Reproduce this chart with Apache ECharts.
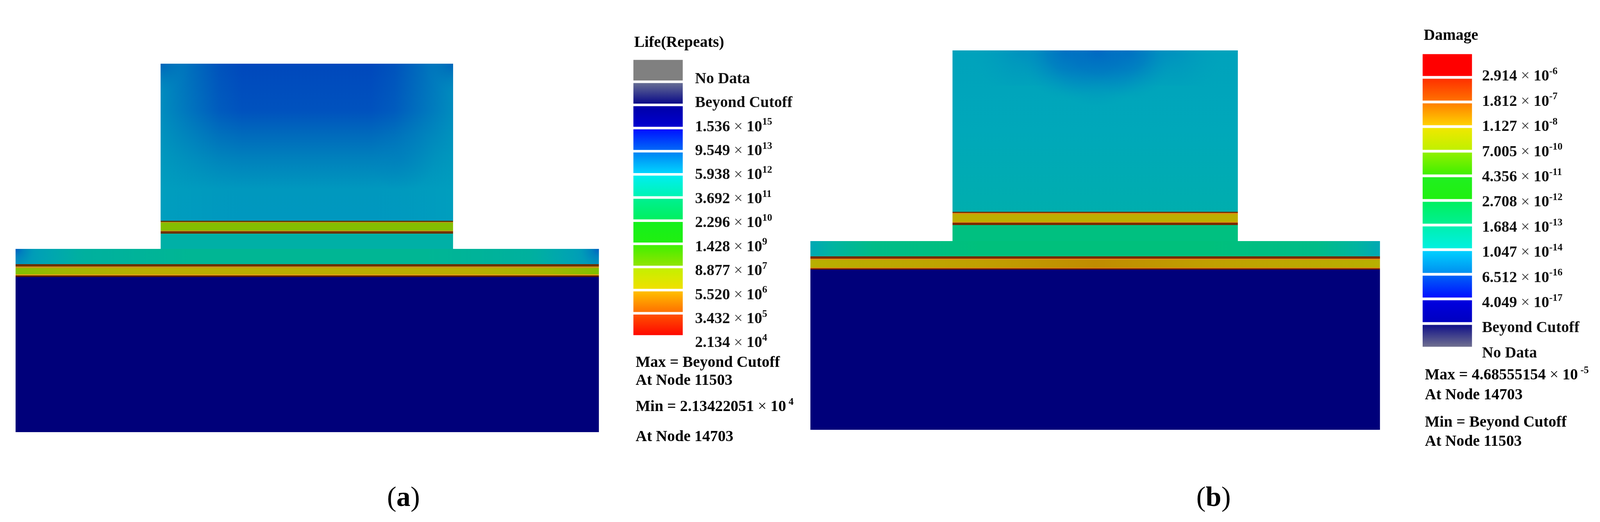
<!DOCTYPE html>
<html>
<head>
<meta charset="utf-8">
<title>Life and damage contours</title>
<script src="https://cdn.jsdelivr.net/npm/echarts@6/dist/echarts.min.js"></script>
<style>
  html, body { margin: 0; padding: 0; background: #fff; overflow: hidden; }
  #chart { width: 100vw; height: 100vh; }
</style>
</head>
<body>
<div id="chart"></div>
<script>
const towerSpanA = [391, 1179]
const baseSpanA = [0, 1572]
const towerEdgesA = [0, 402, 405, 407, 427, 429, 435, 474]
const baseEdgesA = [474, 513, 519, 523, 539, 542, 546, 943]

const towerSpanB = [383, 1152]
const baseSpanB = [0, 1535]
const towerEdgesB = [0, 413, 416, 419, 439, 441, 447, 488]
const baseEdgesB = [488, 527, 533, 536, 556, 558, 561, 971]

// legend entries
const lifeLevels = ['No Data', 'Beyond Cutoff', '1.536^15', '9.549^13', '5.938^12', '3.692^11', '2.296^10', '1.428^9', '8.877^7', '5.520^6', '3.432^5', '2.134^4']
const damageLevels = ['2.914^-6', '1.812^-7', '1.127^-8', '7.005^-10', '4.356^-11', '2.708^-12', '1.684^-13', '1.047^-14', '6.512^-16', '4.049^-17', 'Beyond Cutoff', 'No Data']
const lifeStats = ['Max = Beyond Cutoff', 'At Node 11503', 'Min = 2.13422051^ 4', 'At Node 14703']
const damageStats = ['Max = 4.68555154^ -5', 'At Node 14703', 'Min = Beyond Cutoff', 'At Node 11503']

const lifeBarColors = [
  ['#808080', '#808080'], ['#666d94', '#0a0a88'], ['#0000a8', '#0000d0'], ['#0010ff', '#0068f8'],
  ['#0084f4', '#00d4ff'], ['#00eef0', '#00f4b4'], ['#00f090', '#00f060'], ['#14f01c', '#20f010'],
  ['#40f000', '#90e400'], ['#c4f000', '#f0e000'], ['#ffc000', '#ff7000'], ['#ff5000', '#ff0800']
]
const damageBarColors = [
  ['#ff0000', '#ff0000'], ['#ff3000', '#ff7000'], ['#ff8000', '#ffd000'], ['#f0e800', '#c0f000'],
  ['#90f000', '#40f000'], ['#20f020', '#20f010'], ['#00f060', '#00f090'], ['#00f0b0', '#00f0e0'],
  ['#00d0ff', '#0090f0'], ['#0060f8', '#0010ff'], ['#0000e0', '#0000c0'], ['#101088', '#707090']
]

// the window can come out narrower than the reference, so the layout follows it
const sx = window.innerWidth / 4312
const sy = window.innerHeight / 1336

const vgrad = (stops) => ({ type: 'linear', x: 0, y: 0, x2: 0, y2: 1, colorStops: stops.map(s => ({ offset: s[0], color: s[1] })) })
const hgrad = (stops) => ({ type: 'linear', x: 0, y: 0, x2: 1, y2: 0, colorStops: stops.map(s => ({ offset: s[0], color: s[1] })) })
const spot = (x, y, r, stops) => ({ type: 'radial', x, y, r, colorStops: stops.map(s => ({ offset: s[0], color: s[1] })) })

const BROWN = '#6e3200'
const ORANGE_A = '#c89418'
const ORANGE_B = '#e08a14'
const NAVY = '#00007a'

const towerFillsA = [
  vgrad([[0, '#0048bc'], [0.3, '#0052be'], [0.45, '#006abc'], [0.6, '#0080bc'], [0.8, '#0098be'], [1, '#0098bf']]),
  '#5a3a00', ORANGE_A, '#84be00', ORANGE_A, BROWN, '#00b0a6'
]
const baseFillsA = [
  hgrad([[0, '#009cc0'], [0.04, '#00a8b4'], [0.12, '#00b09e'], [0.3, '#00b694'], [0.7, '#00b694'], [0.88, '#00b09e'], [0.96, '#00a8b4'], [1, '#009cc0']]),
  BROWN, ORANGE_A,
  hgrad([[0, '#80c000'], [0.08, '#a0b600'], [0.22, '#b8ae00'], [0.78, '#b8ae00'], [0.92, '#a0b600'], [1, '#80c000']]),
  '#e0a010', '#5a1a00', NAVY
]
const towerFillsB = [
  vgrad([[0, '#00a2bc'], [0.5, '#00a8ba'], [1, '#00aeae']]),
  BROWN, ORANGE_B, '#bcae00', ORANGE_B, '#7a2a00', '#00c080'
]
const baseFillsB = [
  hgrad([[0, '#00a8b4'], [0.04, '#00b4a0'], [0.11, '#00bc88'], [0.3, '#00c07c'], [0.7, '#00c07c'], [0.89, '#00bc88'], [0.96, '#00b4a0'], [1, '#00a8b4']]),
  '#7a2a00', ORANGE_B,
  hgrad([[0, '#b8b000'], [0.3, '#c0a000'], [0.5, '#c08c00'], [0.7, '#c0a000'], [1, '#b8b000']]),
  '#e07c14', '#6a1a00', NAVY
]

const edgeGlowA = (c) => [[0, c + '0.75)'], [0.08, c + '0.5)'], [0.2, c + '0.12)'], [0.28, c + '0)'], [0.72, c + '0)'], [0.8, c + '0.12)'], [0.92, c + '0.5)'], [1, c + '0.75)']]
const cornerA = [[0, 'rgba(0,90,195,0.95)'], [0.12, 'rgba(0,110,190,0.6)'], [0.3, 'rgba(0,130,185,0.25)'], [1, 'rgba(0,150,180,0)']]
const towerCornerA = [[0, 'rgba(0,85,185,0.7)'], [0.5, 'rgba(0,100,185,0.3)'], [1, 'rgba(0,130,190,0)']]
const shadeA = [[0, 'rgba(0,118,190,0.3)'], [1, 'rgba(0,118,190,0)']]
const lobeB = [[0, 'rgba(0,100,195,0.9)'], [0.4, 'rgba(0,112,195,0.65)'], [0.75, 'rgba(0,130,195,0.25)'], [1, 'rgba(0,150,190,0)']]
const shoulderB = [[0, 'rgba(0,120,195,0.4)'], [1, 'rgba(0,150,190,0)']]

const overlaysA = [
  [391, 1179, 0, 402, hgrad(edgeGlowA('rgba(0,160,190,'))],
  [391, 491, 0, 100, spot(0, 0, 0.8, towerCornerA)],
  [1079, 1179, 0, 100, spot(1, 0, 0.8, towerCornerA)],
  [950, 1130, 150, 330, spot(0.5, 0.5, 0.5, shadeA)],
  [0, 170, 474, 513, spot(0, 0, 4, cornerA)],
  [1402, 1572, 474, 513, spot(1, 0, 4, cornerA)]
]
const overlaysB = [
  [440, 700, 0, 90, spot(0.5, 0, 1.4, shoulderB)],
  [846, 1106, 0, 90, spot(0.5, 0, 1.4, shoulderB)],
  [560, 820, 0, 125, spot(0.5, 0, 1, lobeB)],
  [726, 986, 0, 125, spot(0.5, 0, 1, lobeB)],
  [613, 933, 0, 145, spot(0.5, 0, 1, lobeB)]
]

// one row per rectangle: x0, x1, depth0, depth1, fill index
function buildPanel (span1, edges1, fills1, span2, edges2, fills2, overlays) {
  const fills = []
  const rows = []
  const stack = (span, edges, list) => {
    list.forEach((fill, i) => {
      rows.push([span[0], span[1], edges[i], edges[i + 1], fills.length])
      fills.push(fill)
    })
  }
  stack(span1, edges1, fills1)
  stack(span2, edges2, fills2)
  overlays.forEach(o => {
    rows.push([o[0], o[1], o[2], o[3], fills.length])
    fills.push(o[4])
  })
  return { rows, fills }
}

const panelA = buildPanel(towerSpanA, towerEdgesA, towerFillsA, baseSpanA, baseEdgesA, baseFillsA, overlaysA)
const panelB = buildPanel(towerSpanB, towerEdgesB, towerFillsB, baseSpanB, baseEdgesB, baseFillsB, overlaysB)

function rectSeries (panel, gridIndex) {
  return {
    type: 'custom',
    xAxisIndex: gridIndex,
    yAxisIndex: gridIndex,
    silent: true,
    clip: false,
    data: panel.rows,
    encode: { x: [0, 1], y: [2, 3] },
    renderItem (params, api) {
      const p0 = api.coord([api.value(0), api.value(2)])
      const p1 = api.coord([api.value(1), api.value(3)])
      return {
        type: 'rect',
        shape: { x: p0[0], y: p0[1], width: p1[0] - p0[0], height: p1[1] - p0[1] },
        style: { fill: panel.fills[api.value(4)] }
      }
    }
  }
}

function barSeries (colors, gridIndex) {
  return {
    type: 'bar',
    xAxisIndex: gridIndex,
    yAxisIndex: gridIndex,
    silent: true,
    barCategoryGap: '11%',
    data: colors.map(c => ({ value: 1, itemStyle: { color: vgrad([[0, c[0]], [1, c[1]]]) } }))
  }
}

const SERIF = '"Liberation Serif", "Times New Roman", serif'
const richStyles = {
  n: { fontFamily: SERIF, fontWeight: 'bold', fontSize: 42 * sx, color: '#111', lineHeight: 48 * sx, verticalAlign: 'bottom' },
  x: { fontFamily: SERIF, fontWeight: 'normal', fontSize: 42 * sx, color: '#333', lineHeight: 48 * sx, verticalAlign: 'bottom' },
  s: { fontFamily: SERIF, fontWeight: 'bold', fontSize: 27 * sx, color: '#111', lineHeight: 26 * sx, verticalAlign: 'top' }
}

// "1.536^15" -> 1.536 x 10 with a raised exponent, anything without ^ stays plain
function levelLabel (text) {
  const parts = text.split('^')
  if (parts.length === 1) return '{n|' + text + '}'
  return '{n|' + parts[0] + ' }{x|×}{n| 10}{s|' + parts[1] + '}'
}

const box = (left, top, width, height) => ({ left: left * sx, top: top * sy, width: width * sx, height: height * sy })
const plainAxis = { show: false }
const grids = [
  box(42, 163, 1572, 943),
  box(2184, 129, 1535, 971),
  box(1707, 150, 133, 711),
  box(3834, 135, 133, 756),
  box(1873, 169, 400, 737),
  box(3994, 161, 300, 773)
]
const xAxes = [
  { ...plainAxis, type: 'value', gridIndex: 0, min: baseSpanA[0], max: baseSpanA[1] },
  { ...plainAxis, type: 'value', gridIndex: 1, min: baseSpanB[0], max: baseSpanB[1] },
  { ...plainAxis, type: 'value', gridIndex: 2, min: 0, max: 1 },
  { ...plainAxis, type: 'value', gridIndex: 3, min: 0, max: 1 },
  { ...plainAxis, type: 'value', gridIndex: 4, min: 0, max: 1 },
  { ...plainAxis, type: 'value', gridIndex: 5, min: 0, max: 1 }
]
const labelAxis = (gridIndex, levels) => ({
  type: 'category',
  gridIndex,
  inverse: true,
  data: levels,
  axisLine: { show: false },
  axisTick: { show: false },
  axisLabel: {
    show: true,
    interval: 0,
    inside: true,
    align: 'left',
    margin: 0,
    formatter: levelLabel,
    rich: richStyles
  }
})
const yAxes = [
  { ...plainAxis, type: 'value', gridIndex: 0, inverse: true, min: 0, max: baseEdgesA[7] },
  { ...plainAxis, type: 'value', gridIndex: 1, inverse: true, min: 0, max: baseEdgesB[7] },
  { ...plainAxis, type: 'category', gridIndex: 2, inverse: true, data: lifeLevels },
  { ...plainAxis, type: 'category', gridIndex: 3, inverse: true, data: damageLevels },
  labelAxis(4, lifeLevels),
  labelAxis(5, damageLevels)
]

function textAt (x, y, text, rich) {
  return {
    type: 'text',
    x: x * sx,
    y: y * sy,
    silent: true,
    style: {
      text,
      rich: rich || richStyles,
      align: 'left',
      verticalAlign: 'middle'
    }
  }
}
const captionRich = {
  p: { fontFamily: SERIF, fontWeight: 'normal', fontSize: 76 * sx, color: '#000', lineHeight: 86 * sx },
  b: { fontFamily: SERIF, fontWeight: 'bold', fontSize: 76 * sx, color: '#000', lineHeight: 86 * sx }
}
const statRows = (x, ys, stats) => stats.map((s, i) => textAt(x, ys[i], levelLabel(s)))

const option = {
  animation: false,
  backgroundColor: '#fff',
  grid: grids,
  xAxis: xAxes,
  yAxis: yAxes,
  series: [
    rectSeries(panelA, 0),
    rectSeries(panelB, 1),
    barSeries(lifeBarColors, 2),
    barSeries(damageBarColors, 3)
  ],
  graphic: { elements: [
    textAt(1709, 107, '{n|Life(Repeats)}'),
    textAt(3837, 89, '{n|Damage}'),
    ...statRows(1713, [926, 972, 1039, 1116], lifeStats),
    ...statRows(3840, [958, 1009, 1079, 1128], damageStats),
    textAt(1043, 1276, '{p|(}{b|a}{p|)}', captionRich),
    textAt(3224, 1276, '{p|(}{b|b}{p|)}', captionRich)
  ] }
}

const chart = echarts.init(document.getElementById('chart'))
chart.setOption(option)
</script>
</body>
</html>
